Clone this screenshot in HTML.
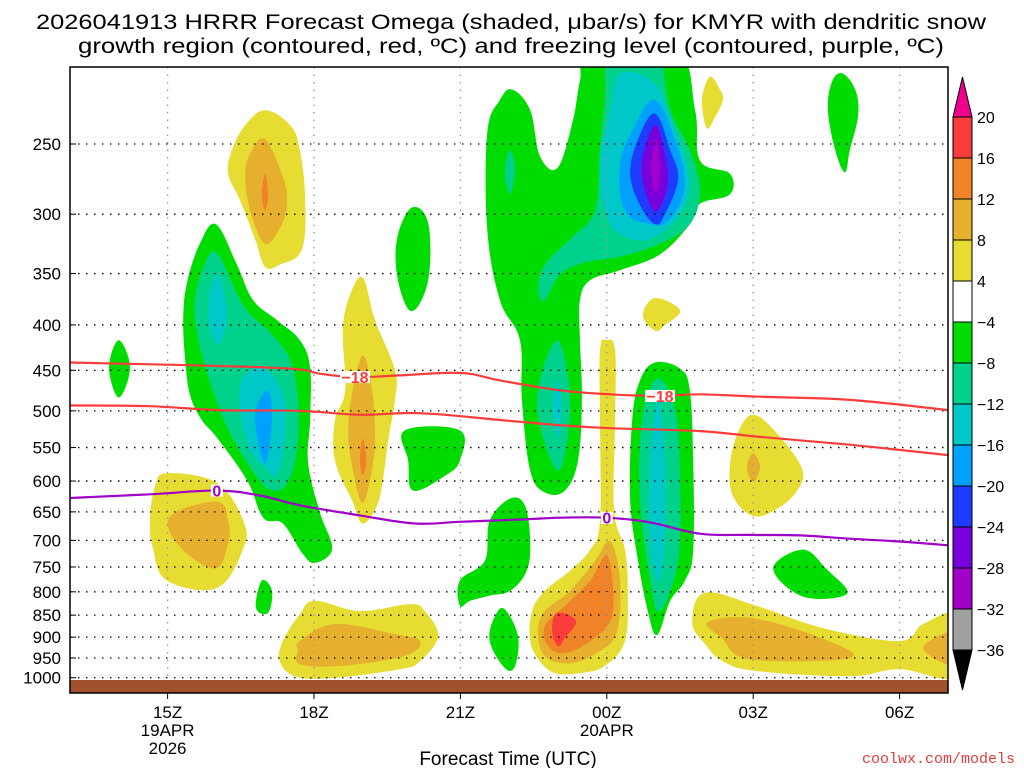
<!DOCTYPE html>
<html><head><meta charset="utf-8"><style>
body{margin:0;background:#fff;width:1024px;height:768px;overflow:hidden}
svg{display:block;font-family:"Liberation Sans",sans-serif}
</style></head><body>
<svg id="chart" width="1024" height="768" viewBox="0 0 1024 768">
<text x="511" y="29" font-size="21" text-anchor="middle" textLength="950" lengthAdjust="spacingAndGlyphs">2026041913 HRRR Forecast Omega (shaded, μbar/s) for KMYR with dendritic snow</text>
<text x="511" y="53" font-size="21" text-anchor="middle" textLength="866" lengthAdjust="spacingAndGlyphs">growth region (contoured, red, ºC) and freezing level (contoured, purple, ºC)</text>
<defs><clipPath id="plotclip"><rect x="70" y="67" width="878" height="626"/></clipPath></defs>
<g id="fills" clip-path="url(#plotclip)"></g>
<g id="grid"></g>
<g id="lines" clip-path="url(#plotclip)"></g>
<rect x="70" y="680" width="878" height="13" fill="#a0522d"/>
<rect x="70" y="67" width="878" height="626" fill="none" stroke="#000" stroke-width="1.5"/>
<g id="axes"></g>
<g id="cbar"></g>
<text x="508" y="765" font-size="19" text-anchor="middle">Forecast Time (UTC)</text>
<text x="1015" y="763" font-size="15" text-anchor="end" fill="#e03c3c" font-family="Liberation Mono, monospace">coolwx.com/models</text>
</svg>
<script>
// axis definitions
const pressureTicks = [250,300,350,400,450,500,550,600,650,700,750,800,850,900,950,1000];
const hourTicks = [2,5,8,11,14,17];
const hourLabels = ["15Z","18Z","21Z","00Z","03Z","06Z"];
const cbarLevels = ["20","16","12","8","4","−4","−8","−12","−16","−20","−24","−28","−32","−36"];
const cbarColors = ["#fa3c3c","#f08228","#e6af2d","#e6dc32","#ffffff","#00dc00","#00d28c","#00c8c8","#00a0ff","#1e3cff","#7800dc","#a000c8","#a0a0a0"];
// contour data [hour since 13Z, pressure hPa]
const red1 = [[0,441],[1.64,443],[3.69,446],[4.71,449],[5.12,454],[5.84,458],[6.76,456],[7.99,453],[8.81,462],[10.04,474],[11.07,479],[12.09,481],[12.91,479],[14.14,482],[15.98,486],[18,499]];
const red2 = [[0,493],[1.64,494],[3.07,499],[4.71,500],[5.94,505],[7.17,503],[8.81,512],[10.04,519],[11.07,523],[12.91,527],[14.14,535],[15.98,546],[18,561]];
const frz = [[0,627],[1.64,621],[3.01,615],[3.89,623],[4.71,639],[5.94,656],[7.07,670],[7.99,667],[9.22,663],[10.04,660],[11.0,660],[11.89,668],[12.91,688],[13.93,690],[14.96,691],[15.98,697],[17,702],[18,709]];
const lineLabels = [["−18",5.84,458,"#fa3c3c"],["−18",12.09,481,"#fa3c3c"],["0",3.01,615,"#a000c8"],["0",11.0,660,"#a000c8"]];
// omega regions
const yelA=[[4.0,229],[4.51,238],[4.71,254],[4.82,289],[4.75,329],[4.3,342],[4.0,344],[3.79,320],[3.48,289],[3.24,270],[3.32,254],[3.59,238]];
const goldA=[[4.0,247],[4.34,270],[4.45,289],[4.34,308],[4.0,324],[3.69,297],[3.59,270],[3.73,254]];
const oraA=[[4.0,270],[4.06,285],[4.0,297],[3.93,285]];
const grnB=[[2.99,308],[3.42,342],[3.75,375],[4.24,395],[4.71,416],[4.92,447],[4.92,512],[4.88,573],[5.12,651],[5.37,715],[5.02,742],[4.77,725],[4.36,670],[3.96,660],[3.63,599],[3.01,536],[2.7,512],[2.46,480],[2.36,438],[2.32,393],[2.4,358],[2.66,324]];
const tealB=[[3.01,332],[3.55,380],[4.1,408],[4.51,438],[4.67,486],[4.65,554],[4.45,603],[4.16,615],[3.83,594],[3.28,530],[2.87,464],[2.6,408],[2.56,375],[2.73,345]];
const cyanB1=[[3.01,350],[3.22,388],[3.03,421],[2.83,388]];
const cyanB2=[[3.96,447],[4.36,478],[4.41,532],[4.24,590],[4.04,581],[3.69,554],[3.48,495],[3.55,458]];
const lbB=[[4.04,474],[4.14,508],[4.0,573],[3.79,508]];
const grnC=[[1.0,416],[1.23,447],[1.0,483],[0.8,447]];
const grnD=[[7.0,295],[7.34,307],[7.34,356],[7.0,386],[6.72,356],[6.7,320]];
const yelE=[[6.0,354],[6.25,395],[6.66,450],[6.66,486],[6.52,540],[6.41,599],[6.29,639],[6.0,670],[5.78,631],[5.43,569],[5.43,512],[5.64,474],[5.59,405],[5.74,370]];
const goldE=[[6.0,433],[6.19,474],[6.25,530],[6.21,573],[6.0,635],[5.8,584],[5.7,530],[5.78,478]];
const oraE=[[6.0,537],[6.07,569],[6.0,590],[5.94,569]];
const grnF=[[6.86,526],[7.99,526],[7.99,569],[7.68,592],[7.03,615],[6.93,569]];
const yelG=[[1.99,588],[3.01,603],[3.55,665],[3.55,715],[3.01,792],[1.99,777],[1.7,715],[1.64,665],[1.74,609]];
const goldG=[[2.05,658],[3.01,633],[3.24,665],[3.24,705],[2.97,753],[2.25,711]];
const grnH=[[3.93,777],[4.14,798],[4.06,845],[3.81,834]];
const yelI=[[5.02,819],[5.94,841],[6.97,826],[7.27,841],[7.54,898],[7.17,958],[6.76,978],[5.33,1001],[4.61,996],[4.3,958],[4.36,909],[4.71,848]];
const goldI=[[4.71,909],[5.43,870],[6.66,893],[7.17,909],[6.86,945],[5.53,970],[4.71,965],[4.67,933]];
const grnU=[[8.55,243],[8.81,223],[9.06,217],[9.43,229],[9.63,258],[9.99,266],[10.3,236],[10.45,212],[10.66,195],[12.4,195],[12.81,229],[12.91,261],[13.52,270],[13.52,285],[12.91,292],[12.7,308],[12.09,333],[11.27,347],[10.66,356],[10.45,375],[10.45,416],[10.49,486],[10.41,569],[10.14,615],[9.73,618],[9.43,584],[9.26,486],[9.22,416],[8.81,375],[8.55,312]];
const tealU=[[11.07,195],[11.99,195],[12.3,229],[12.7,254],[12.91,282],[12.7,308],[12.09,324],[11.27,335],[10.55,340],[10.04,351],[9.73,375],[9.59,365],[9.73,342],[10.25,320],[10.76,297],[10.86,254],[10.96,223]];
const tealU2=[[9.02,254],[9.12,267],[9.02,285],[8.91,269]];
const tealJ=[[9.98,416],[10.25,490],[10.0,584],[9.57,490]];
const cyanJ=[[9.98,462],[10.08,495],[9.98,537],[9.9,495]];
const cyanU=[[11.27,208],[11.99,214],[12.4,241],[12.7,274],[12.5,300],[11.89,320],[11.27,316],[10.96,297],[10.86,261],[11.07,229]];
const lbU=[[11.99,223],[12.4,247],[12.6,278],[12.3,304],[11.89,308],[11.37,297],[11.27,264],[11.58,238]];
const blueU=[[11.99,231],[12.3,254],[12.46,274],[12.19,300],[11.99,308],[11.68,293],[11.48,270],[11.64,247]];
const purU=[[11.99,238],[12.19,257],[12.25,278],[12.01,298],[11.78,282],[11.72,261]];
const magU=[[12.01,247],[12.09,267],[12.01,285],[11.9,267]];
const grnK=[[9.02,628],[9.32,639],[9.43,700],[9.36,757],[9.02,798],[8.6,808],[8.2,819],[7.99,830],[7.99,777],[8.5,738],[8.6,665]];
const grnK2=[[8.91,837],[9.18,898],[9.12,970],[8.91,975],[8.6,909],[8.71,852]];
const yelL=[[11.0,416],[11.17,427],[11.17,512],[11.15,648],[11.37,717],[11.43,798],[11.37,909],[10.96,970],[10.45,988],[9.94,988],[9.63,958],[9.43,909],[9.47,841],[9.73,798],[10.25,757],[10.66,717],[10.86,665],[10.86,512],[10.86,427]];
const goldL=[[11.07,702],[11.27,777],[11.21,886],[10.86,933],[10.25,963],[9.73,945],[9.59,886],[9.73,841],[10.25,798],[10.76,738]];
const oraL=[[11.0,728],[11.13,798],[11.07,863],[10.66,909],[10.14,938],[9.8,921],[9.73,875],[10.14,830],[10.66,777]];
const redL=[[9.98,845],[10.37,863],[10.14,902],[10.0,921],[9.88,886]];
const grnM=[[11.99,441],[12.5,448],[12.7,474],[12.77,569],[12.77,719],[12.6,777],[12.3,819],[12.03,895],[11.84,841],[11.64,738],[11.48,631],[11.52,512],[11.68,462]];
const tealM=[[12.03,460],[12.4,499],[12.5,599],[12.46,738],[12.09,841],[11.89,777],[11.68,631],[11.72,512]];
const cyanM=[[12.05,486],[12.19,569],[12.19,700],[12.05,777],[11.89,700],[11.89,569]];
const yelN1=[[13.11,210],[13.32,217],[13.38,223],[13.22,233],[13.05,240],[12.95,223]];
const yelN2=[[11.99,373],[12.5,385],[12.19,400],[11.99,406],[11.74,390]];
const grnO=[[15.82,208],[16.09,217],[16.15,232],[15.98,254],[15.88,269],[15.68,254],[15.53,229],[15.61,213]];
const yelP=[[14.0,505],[14.51,532],[15.0,581],[14.9,615],[14.49,645],[14.0,657],[13.59,625],[13.52,579],[13.67,532]];
const goldP=[[14.0,558],[14.14,579],[14.0,601],[13.87,579]];
const grnQ=[[15.02,717],[15.51,755],[15.92,804],[15.02,810],[14.41,753]];
const yelR=[[13.01,802],[14.08,830],[15.43,879],[17.0,909],[17.48,870],[18.2,850],[18.2,996],[17.0,978],[15.98,996],[14.08,983],[13.38,958],[13.01,916],[12.75,866]];
const goldR=[[13.07,866],[14.0,857],[15.43,904],[15.98,950],[13.93,953],[13.36,902]];
const goldR2=[[18.2,886],[17.48,926],[18.2,970]];

const Y='#e6dc32',G='#e6af2d',O='#f08228',R='#fa3c3c',GR='#00dc00',T='#00d28c',C='#00c8c8',LB='#00a0ff',B='#1e3cff',PU='#7800dc',M='#a000c8';
const layers=[
 ['yellow-a',Y,yelA],['gold-a',G,goldA],['orange-a',O,oraA],
 ['green-b',GR,grnB],['teal-b',T,tealB],['cyan-b1',C,cyanB1],['cyan-b2',C,cyanB2],['lightblue-b',LB,lbB],
 ['green-c',GR,grnC],['green-d',GR,grnD],
 ['yellow-e',Y,yelE],['gold-e',G,goldE],['orange-e',O,oraE],
 ['green-f',GR,grnF],['yellow-g',Y,yelG],['gold-g',G,goldG],['green-h',GR,grnH],
 ['yellow-i',Y,yelI],['gold-i',G,goldI],
 ['green-upper',GR,grnU],['teal-upper',T,tealU],['teal-upper-2',T,tealU2],['teal-j',T,tealJ],['cyan-j',C,cyanJ],
 ['cyan-upper',C,cyanU],['lightblue-upper',LB,lbU],['blue-upper',B,blueU],['purple-upper',PU,purU],['magenta-upper',M,magU],
 ['green-k',GR,grnK],['green-k2',GR,grnK2],
 ['yellow-l',Y,yelL],['gold-l',G,goldL],['orange-l',O,oraL],['red-l',R,redL],
 ['green-m',GR,grnM],['teal-m',T,tealM],['cyan-m',C,cyanM],
 ['yellow-n1',Y,yelN1],['yellow-n2',Y,yelN2],['green-o',GR,grnO],
 ['yellow-p',Y,yelP],['gold-p',G,goldP],['green-q',GR,grnQ],
 ['yellow-r',Y,yelR],['gold-r',G,goldR],['gold-r2',G,goldR2]
];

const X0=70,PXH=48.8,Y250=144,KLOG=385;
function xs(h){return X0+h*PXH;}
function ys(p){return Y250+KLOG*Math.log(p/250);}
const NS='http://www.w3.org/2000/svg';
function mk(tag,attrs,parent){const e=document.createElementNS(NS,tag);for(const k in attrs)e.setAttribute(k,attrs[k]);parent.appendChild(e);return e;}
function smooth(pts,closed){
  const P=pts.map(d=>[xs(d[0]),ys(d[1])]);const n=P.length;
  let d='M'+P[0][0].toFixed(1)+','+P[0][1].toFixed(1);
  const segs=closed?n:n-1;
  for(let i=0;i<segs;i++){
    const p0=P[closed?(i-1+n)%n:Math.max(i-1,0)],p1=P[i],p2=P[(i+1)%n],p3=P[closed?(i+2)%n:Math.min(i+2,n-1)];
    const t=0.18;
    const c1=[p1[0]+(p2[0]-p0[0])*t,p1[1]+(p2[1]-p0[1])*t];
    const c2=[p2[0]-(p3[0]-p1[0])*t,p2[1]-(p3[1]-p1[1])*t];
    d+='C'+c1.map(v=>v.toFixed(1)).join(',')+' '+c2.map(v=>v.toFixed(1)).join(',')+' '+p2[0].toFixed(1)+','+p2[1].toFixed(1);
  }
  return d+(closed?'Z':'');
}
const fills=document.getElementById('fills');
layers.forEach(l=>{
  const e=mk('path',{d:smooth(l[2],true),fill:l[1]},fills);
  
  
});
// grid
const grid=document.getElementById('grid');
pressureTicks.forEach(p=>{
  const e=mk('line',{x1:70,x2:948,y1:ys(p),y2:ys(p),stroke:'#000','stroke-width':1.3,'stroke-dasharray':'1.5 6.5'},grid);
  
  
});
hourTicks.forEach(h=>{
  const e=mk('line',{x1:xs(h),x2:xs(h),y1:67,y2:693,stroke:'#999','stroke-width':1.3,'stroke-dasharray':'1.5 6'},grid);
  
  
});
// contour lines
const lines=document.getElementById('lines');
[[red1,'#fa3c3c','dgz-upper-line'],[red2,'#fa3c3c','dgz-lower-line'],[frz,'#a000c8','freezing-level-line']].forEach(c=>{
  const e=mk('path',{d:smooth(c[0],false),fill:'none',stroke:c[1],'stroke-width':2.2},lines);
  
  
});
lineLabels.forEach(l=>{
  const x=xs(l[1]),y=ys(l[2]);
  const w=l[0].length>1?30:12;
  const r=mk('rect',{x:x-w/2,y:y-6,width:w,height:12,fill:'#fff'},lines);
  
  
  const t=mk('text',{x:x,y:y+6,'font-size':16,'font-weight':'bold','text-anchor':'middle',fill:l[3]},lines);
  
  
  t.textContent=l[0];
});
// axes labels
const axes=document.getElementById('axes');
pressureTicks.forEach(p=>{
  const t=mk('text',{x:61,y:ys(p)+6,'font-size':17,'text-anchor':'end'},axes);
  
  
  t.textContent=p;
  const k=mk('line',{x1:70,x2:76,y1:ys(p),y2:ys(p),stroke:'#000'},axes);
  
  
});
hourTicks.forEach((h,i)=>{
  const k=mk('line',{x1:xs(h),x2:xs(h),y1:693,y2:699,stroke:'#000'},axes);
  
  
  const t=mk('text',{x:xs(h),y:718,'font-size':17,'text-anchor':'middle'},axes);
  
  
  t.textContent=hourLabels[i];
});
[['19APR',2,736],['2026',2,754],['20APR',11,736]].forEach(d=>{
  const t=mk('text',{x:xs(d[1]),y:d[2],'font-size':17,'text-anchor':'middle'},axes);
  
  
  t.textContent=d[0];
});
// colorbar
const cb=document.getElementById('cbar');
const CX=953,CW=19,CT=117,CS=41;
const tri1=mk('polygon',{points:`${CX},${CT} ${CX+CW},${CT} ${CX+CW/2},${CT-40}`,fill:'#f0008c',stroke:'#000'},cb);


cbarColors.forEach((c,i)=>{
  const r=mk('rect',{x:CX,y:CT+i*CS,width:CW,height:CS,fill:c,stroke:'#000','stroke-width':1},cb);
  
  
});
const yb=CT+cbarColors.length*CS;
const tri2=mk('polygon',{points:`${CX},${yb} ${CX+CW},${yb} ${CX+CW/2},${yb+40}`,fill:'#000',stroke:'#000'},cb);


cbarLevels.forEach((l,i)=>{
  const t=mk('text',{x:977,y:CT+i*CS+6,'font-size':16},cb);
  
  
  t.textContent=l;
});
</script>
</body></html>
